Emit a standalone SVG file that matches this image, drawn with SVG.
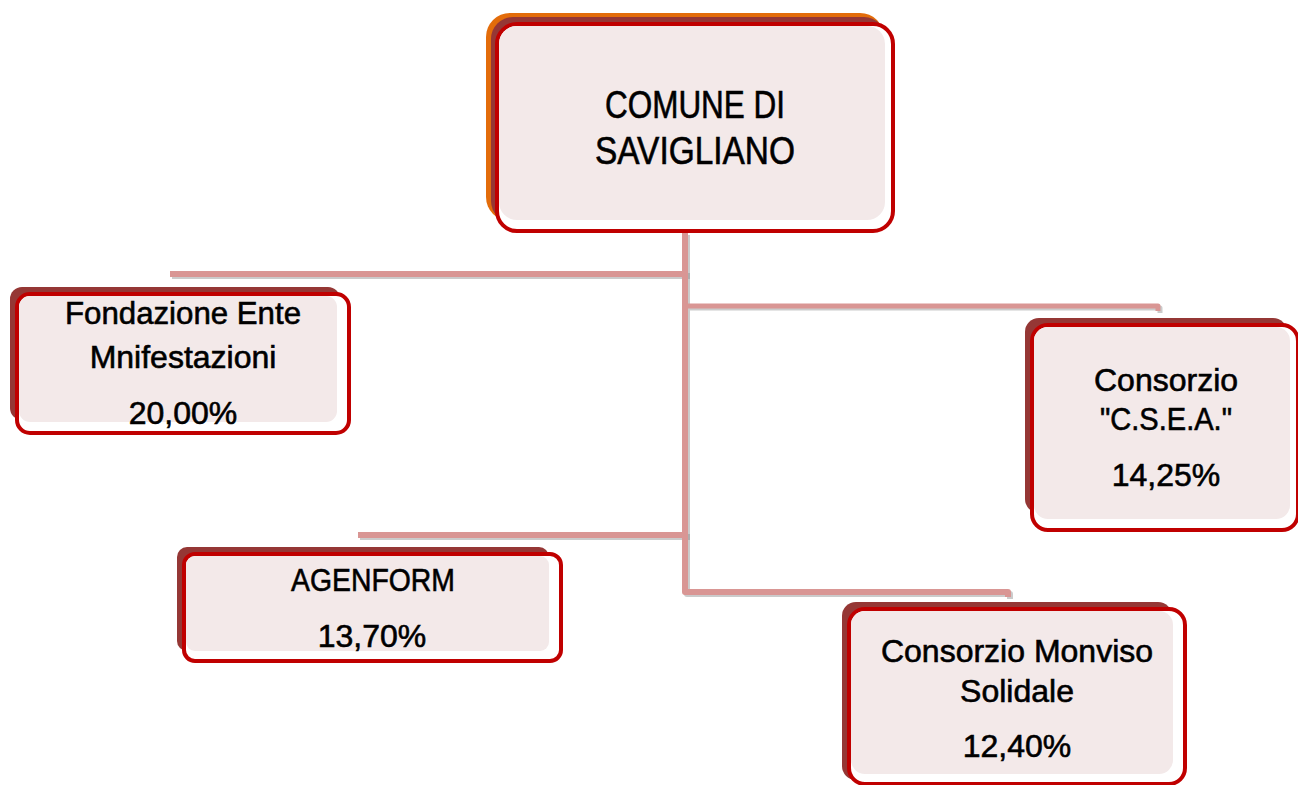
<svg xmlns="http://www.w3.org/2000/svg" width="1298" height="785" viewBox="0 0 1298 785">
<style>
.shadow{fill:#953735}
.border{fill:#ffffff;stroke:#C00000;stroke-width:4}
.fillp{fill:#F3E9E9}
.conn{fill:none;stroke:#D99694;stroke-linejoin:round}
.connsh{fill:none;stroke:#8C8C8C;stroke-opacity:0.45;stroke-linejoin:round}
text{font-family:"Liberation Sans",Arial,sans-serif;fill:#000;stroke:#000;stroke-width:0.6;text-anchor:middle}
.t{font-size:32px}
.big{font-size:38px}
</style>
<rect x="0" y="0" width="1298" height="785" fill="#ffffff"/>
<g id="connectors">
  <path class="connsh" stroke-width="6" d="M687,235 V594 H1010 V599"/>
  <path class="connsh" stroke-width="6" d="M172,276 H690"/>
  <path class="connsh" stroke-width="6" d="M360,537 H690"/>
  <path class="connsh" stroke-width="5" d="M690,308 H1160 V313"/>
  <path class="conn" stroke-width="6" d="M685,233 V592 H1008 V597"/>
  <path class="conn" stroke-width="6" d="M170,274 H688"/>
  <path class="conn" stroke-width="6" d="M358,535 H688"/>
  <path class="conn" stroke-width="5" d="M688,306 H1158 V311"/>
</g>
<g id="comune">
  <rect x="486" y="13" width="398" height="208" rx="24" fill="#E36C0A"/>
  <rect x="491" y="17" width="395" height="206" rx="22" class="shadow"/>
  <rect x="497" y="24" width="396" height="207" rx="20" class="border"/>
  <rect x="499" y="26" width="386" height="194" rx="18" class="fillp"/>
  <text class="big" x="695" y="118" textLength="180" lengthAdjust="spacingAndGlyphs">COMUNE DI</text>
  <text class="big" x="695" y="164" textLength="200" lengthAdjust="spacingAndGlyphs">SAVIGLIANO</text>
</g>
<g id="fondazione">
  <rect x="10" y="287" width="330" height="133" rx="12" class="shadow"/>
  <rect x="17" y="294" width="332" height="139" rx="13" class="border"/>
  <rect x="19" y="296" width="318" height="126" rx="11" class="fillp"/>
  <text class="t" x="183" y="324" textLength="236" lengthAdjust="spacingAndGlyphs">Fondazione Ente</text>
  <text class="t" x="183" y="368">Mnifestazioni</text>
  <text class="t" x="183" y="424">20,00%</text>
</g>
<g id="csea">
  <rect x="1025" y="318" width="262" height="195" rx="14" class="shadow"/>
  <rect x="1032" y="325" width="266" height="205" rx="16" class="border"/>
  <rect x="1034" y="327" width="256" height="192" rx="14" class="fillp"/>
  <text class="t" x="1166" y="391">Consorzio</text>
  <text class="t" x="1166" y="430" textLength="132" lengthAdjust="spacingAndGlyphs">"C.S.E.A."</text>
  <text class="t" x="1166" y="486">14,25%</text>
</g>
<g id="agenform">
  <rect x="177" y="547" width="372" height="104" rx="10" class="shadow"/>
  <rect x="184" y="554" width="377" height="107" rx="11" class="border"/>
  <rect x="186" y="556" width="363" height="95" rx="9" class="fillp"/>
  <text class="t" x="373" y="591" textLength="164" lengthAdjust="spacingAndGlyphs">AGENFORM</text>
  <text class="t" x="372" y="647">13,70%</text>
</g>
<g id="monviso">
  <rect x="842" y="602" width="330" height="178" rx="14" class="shadow"/>
  <rect x="849" y="609" width="336" height="175" rx="16" class="border"/>
  <rect x="851" y="611" width="322" height="163" rx="14" class="fillp"/>
  <text class="t" x="1017" y="662">Consorzio Monviso</text>
  <text class="t" x="1017" y="702">Solidale</text>
  <text class="t" x="1017" y="757">12,40%</text>
</g>
</svg>
